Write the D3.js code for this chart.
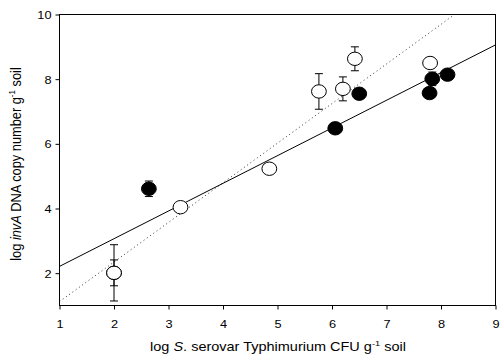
<!DOCTYPE html>
<html><head><meta charset="utf-8">
<script src="https://cdn.jsdelivr.net/npm/d3@7"></script>
<style>body{margin:0;background:#fff;} svg{display:block;} text{font-family:"Liberation Sans",Arial,sans-serif;}</style>
</head><body>
<svg id="c" width="502" height="355"></svg>
<script>
// Open circles (with error bars, standard deviation)
const openX   = [2.00, 2.00, 3.22, 4.85, 5.76, 6.20, 6.42, 7.80];
const openY   = [2.01, 2.01, 4.04, 5.23, 7.62, 7.70, 8.63, 8.50];
const openErr = [0.87, 0.40, 0.00, 0.00, 0.55, 0.37, 0.37, 0.00];
// Filled circles
const fillX   = [2.64, 6.06, 6.50, 7.79, 7.84, 8.12];
const fillY   = [4.61, 6.48, 7.55, 7.57, 8.01, 8.14];
const fillErr = [0.24, 0.12, 0.00, 0.00, 0.21, 0.00];
// Regression lines (endpoints on the fitted lines)
const solidLine  = [[1, 2.21], [9, 9.06]];
const dottedLine = [[1, 1.12], [9, 10.92]];
const xTicks = [1, 2, 3, 4, 5, 6, 7, 8, 9];
const yTicks = [2, 4, 6, 8, 10];

const svg = d3.select("#c");
const L = 59.5, R = 495.5, T = 14.5, B = 305.5;
const SX = 1.16; // horizontal stretch of the original figure
const x = d3.scaleLinear().domain([1, 9]).range([L, R]);
const y = d3.scaleLinear().domain([1, 10]).range([B, T]);

svg.append("defs").append("clipPath").attr("id", "clip")
  .append("rect").attr("x", L).attr("y", T).attr("width", R - L).attr("height", B - T);

svg.append("rect").attr("x", L).attr("y", T).attr("width", R - L).attr("height", B - T)
  .attr("fill", "none").attr("stroke", "#000").attr("stroke-width", 1);

const xa = svg.append("g").attr("transform", `translate(0,${B})`)
  .call(d3.axisBottom(x).tickValues(xTicks).tickFormat(d3.format("d")).tickSize(4).tickSizeOuter(0));
const ya = svg.append("g").attr("transform", `translate(${L},0)`)
  .call(d3.axisLeft(y).tickValues(yTicks).tickFormat(d3.format("d")).tickSize(4).tickSizeOuter(0));
[xa, ya].forEach(a => {
  a.select(".domain").remove();
  a.selectAll("text").attr("font-size", 11).attr("fill", "#000")
    .style("font-family", "'Liberation Sans',Arial,sans-serif");
  a.selectAll("line").attr("stroke", "#000");
});
xa.selectAll(".tick text").attr("y", null).attr("dy", null)
  .attr("transform", `translate(0,22) scale(${SX},1)`);
ya.selectAll(".tick text").attr("x", null).attr("dy", "0.35em")
  .attr("transform", `translate(-8,0) scale(${SX},1)`);

const line = d3.line().x(d => x(d[0])).y(d => y(d[1]));
const g = svg.append("g").attr("clip-path", "url(#clip)");
g.append("path").attr("d", line(dottedLine)).attr("fill", "none")
  .attr("stroke", "#333").attr("stroke-width", 1).attr("stroke-dasharray", "1,3");
g.append("path").attr("d", line(solidLine)).attr("fill", "none")
  .attr("stroke", "#000").attr("stroke-width", 1);

function drawSeries(xs, ys, es, fill) {
  const data = xs.map((v, i) => ({x: v, y: ys[i], e: es[i]}));
  const eb = svg.append("g");
  data.filter(d => d.e > 0).forEach(d => {
    eb.append("line").attr("x1", x(d.x)).attr("x2", x(d.x))
      .attr("y1", y(d.y + d.e)).attr("y2", y(d.y - d.e)).attr("stroke", "#000");
    [d.y + d.e, d.y - d.e].forEach(v => {
      eb.append("line").attr("x1", x(d.x) - 4).attr("x2", x(d.x) + 4)
        .attr("y1", y(v)).attr("y2", y(v)).attr("stroke", "#000");
    });
  });
  svg.append("g").selectAll("ellipse").data(data).join("ellipse")
    .attr("cx", d => x(d.x)).attr("cy", d => y(d.y)).attr("rx", 7.4).attr("ry", 6.7)
    .attr("fill", fill).attr("stroke", "#000").attr("stroke-width", 1);
}
drawSeries(openX, openY, openErr, "#fff");
drawSeries(fillX, fillY, fillErr, "#000");

const xt = svg.append("text").attr("transform", `translate(278,351) scale(${SX},1)`)
  .attr("text-anchor", "middle").attr("font-size", 12.5);
xt.append("tspan").text("log ");
xt.append("tspan").attr("font-style", "italic").text("S");
xt.append("tspan").text(". serovar Typhimurium CFU g");
xt.append("tspan").attr("font-size", 8).attr("dy", -5).text("-1");
xt.append("tspan").attr("dy", 5).text(" soil");

const yt = svg.append("text").attr("transform", `translate(21,164) scale(${SX},1) rotate(-90)`)
  .attr("text-anchor", "middle").attr("font-size", 12.8);
yt.append("tspan").text("log ");
yt.append("tspan").attr("font-style", "italic").text("invA");
yt.append("tspan").text(" DNA copy number g");
yt.append("tspan").attr("font-size", 8).attr("dy", -5).text("-1");
yt.append("tspan").attr("dy", 5).text(" soil");
</script>
</body></html>
